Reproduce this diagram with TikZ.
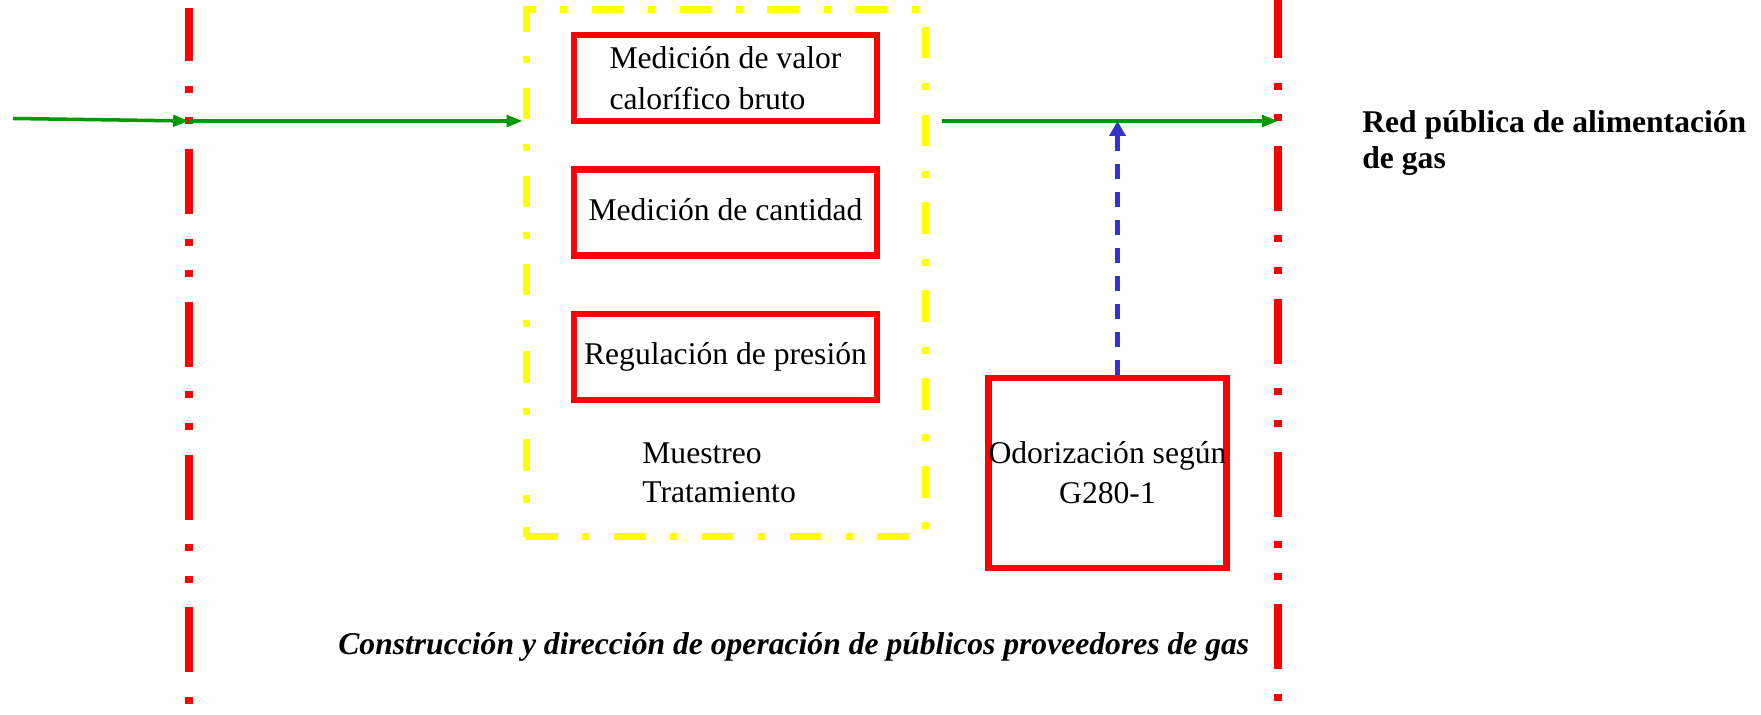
\documentclass[tikz,border=0pt]{standalone}
\usepackage{fontspec}
\setmainfont{Liberation Serif}
\usetikzlibrary{arrows.meta}

\begin{document}
\begin{tikzpicture}[x=0.02cm,y=-0.02cm,
    every node/.style={font=\fontsize{18}{22.7}\selectfont,inner sep=0pt},
    boundary/.style={draw=redline,line width=4.5pt,
        dash pattern=on 37pt off 14pt on 4pt off 14pt on 4pt off 14pt},
    frame/.style={draw=yellowline,line width=4pt,
        dash pattern=on 18pt off 14pt on 4pt off 14pt,
        minimum width=8cm,minimum height=10.55cm},
    stage/.style={draw=redline,line width=3.7pt,
        minimum width=6.06cm,minimum height=1.72cm},
    flow/.style={draw=greenflow,line width=2pt,-{Triangle[length=9pt,width=6.5pt]}},
    dosing/.style={draw=blueodor,line width=2.5pt,dash pattern=on 8.5pt off 7.4pt,
        -{Triangle[length=8.5pt,width=9pt]}}]
    \definecolor{redline}{HTML}{FF0000}
    \definecolor{yellowline}{HTML}{FFFF00}
    \definecolor{greenflow}{HTML}{009900}
    \definecolor{blueodor}{HTML}{3333CC}
    \useasboundingbox (0,0) rectangle (1761,715);

% boundaries
    \draw[boundary,dash phase=6.8pt] (189,8) -- (189,715);
    \draw[boundary,dash phase=4pt] (1278,0) -- (1278,715);

% station
    \node[frame] (zone) at (726,273.25) {};
    \node[stage,align=left,font=\fontsize{18}{23.5}\selectfont] (calor) at (725.5,78)
        {Medición de valor\\calorífico bruto};
    \node[stage] (quantity) at (725.5,212.5) {\raisebox{3pt}{Medición de cantidad}};
    \node[stage] (pressure) at (725.5,357) {Regulación de presión};
    \node[anchor=base west,align=left] (sampling) at (642,503) {Muestreo\\Tratamiento};
    \node[stage,align=center,minimum width=4.7cm,minimum height=3.8cm] (odor)
        at (1107.5,473) {Odorización según\\G280-1};

% labels
    \node[anchor=base west,align=left,font=\fontsize{18}{21}\selectfont\bfseries]
        (network) at (1362,169) {Red pública de alimentación\\de gas};
    \node[anchor=base west,font=\fontsize{18}{21}\selectfont\bfseries\itshape]
        (operator) at (338,655) {Construcción y dirección de operación de públicos proveedores de gas};

% gas flow
    \coordinate (inlet) at (13,118.5);
    \coordinate (entry) at (189,121);
    \coordinate (outlet) at (942,121);
    \coordinate (delivery) at (1278,121);
    \draw[flow] (inlet) -- (entry);
    \draw[flow] (entry) -- (entry -| zone.west);
    \draw[flow] (outlet) -- (delivery);
    \draw[dosing] ([xshift=0.2cm]odor.north) -- ([xshift=0.2cm]odor.north |- outlet);
\end{tikzpicture}
\end{document}
